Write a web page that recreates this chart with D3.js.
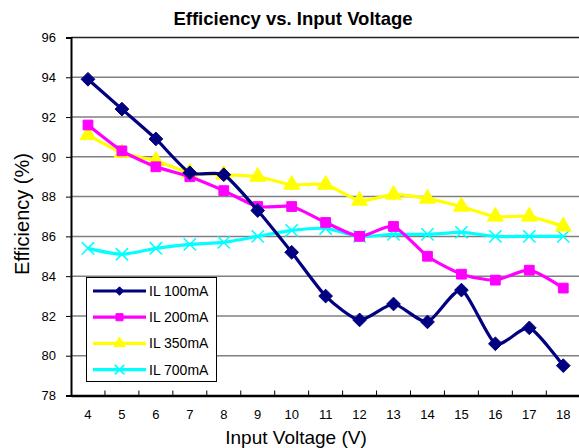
<!DOCTYPE html>
<html>
<head>
<meta charset="utf-8">
<script src="https://cdn.jsdelivr.net/npm/d3@7"></script>
<style>
  body { margin: 0; background: #fff; }
  text { font-family: "Liberation Sans", Arial, sans-serif; }
</style>
</head>
<body>
<div id="chart"></div>
<script>
// voltages on the x axis
const voltages = [4, 5, 6, 7, 8, 9, 10, 11, 12, 13, 14, 15, 16, 17, 18];
const yTicks = [78, 80, 82, 84, 86, 88, 90, 92, 94, 96];

// efficiency (%)
const il100 = [93.9, 92.4, 90.9, 89.2, 89.1, 87.3, 85.2, 83.0, 81.8, 82.6, 81.7, 83.3, 80.6, 81.4, 79.5];
const il200 = [91.6, 90.3, 89.5, 89.0, 88.3, 87.5, 87.5, 86.7, 86.0, 86.5, 85.0, 84.1, 83.8, 84.3, 83.4];
const il350 = [91.1, 90.2, 89.8, 89.2, 89.1, 89.0, 88.6, 88.6, 87.8, 88.1, 87.9, 87.5, 87.0, 87.0, 86.5];
const il700 = [85.4, 85.1, 85.4, 85.6, 85.7, 86.0, 86.3, 86.4, 86.0, 86.1, 86.1, 86.2, 86.0, 86.0, 86.0];

const seriesNames = ["IL 100mA", "IL 200mA", "IL 350mA", "IL 700mA"];
const seriesColors = ["#000080", "#ff00ff", "#ffff00", "#00ffff"];
const seriesSymbols = ["diamond", "square", "triangle", "cross"];

const series = [il100, il200, il350, il700].map((vals, i) => ({
	name: seriesNames[i], color: seriesColors[i], symbol: seriesSymbols[i], values: vals
}));

const width = 579, height = 448;
const margin = {top: 37.5, right: 0, bottom: 52.5, left: 71};
const band = 33.95;
const plotRight = margin.left + voltages.length * band;

const svg = d3.select("#chart").append("svg")
	.attr("width", width)
	.attr("height", height);

const x = d3.scaleBand()
	.domain(voltages)
	.range([margin.left, plotRight])
	.padding(0);

const y = d3.scaleLinear()
	.domain([78, 96])
	.range([height - margin.bottom, margin.top]);

// gridlines
svg.append("g")
	.selectAll("line")
	.data(yTicks.filter(d => d > 78))
	.enter().append("line")
	.attr("x1", margin.left).attr("x2", plotRight)
	.attr("y1", d => y(d)).attr("y2", d => y(d))
	.style("stroke", d => d === 96 ? "#222" : "#808080")
	.style("stroke-width", 1.5);

// y axis
const yAxis = svg.append("g")
	.attr("transform", `translate(${margin.left},0)`)
	.call(d3.axisLeft(y).tickValues(yTicks).tickSize(5).tickPadding(10));
yAxis.select(".domain").style("stroke", "#000").style("stroke-width", 2);
yAxis.selectAll(".tick line").style("stroke", "#000");
yAxis.selectAll("text").style("font-size", "13px").style("fill", "#000");

// x axis with ticks between categories, pointing inward
const xAxis = svg.append("g")
	.attr("transform", `translate(0,${y(78)})`)
	.call(d3.axisBottom(x).tickSize(0).tickPadding(14));
xAxis.select(".domain").style("stroke", "#000").style("stroke-width", 2.5);
xAxis.selectAll("text").style("font-size", "13px").style("fill", "#000");
xAxis.selectAll(".sep")
	.data(voltages.slice(1))
	.enter().append("line")
	.attr("class", "sep")
	.attr("x1", d => x(d)).attr("x2", d => x(d))
	.attr("y1", 0).attr("y2", -5)
	.style("stroke", "#000");

// titles
svg.append("text")
	.attr("x", 293).attr("y", 25)
	.attr("text-anchor", "middle")
	.style("font-size", "18.5px").style("font-weight", "bold")
	.text("Efficiency vs. Input Voltage");

svg.append("text")
	.attr("x", 296).attr("y", 444)
	.attr("text-anchor", "middle")
	.style("font-size", "19px")
	.text("Input Voltage (V)");

svg.append("text")
	.attr("transform", "translate(29,214) rotate(-90)")
	.attr("text-anchor", "middle")
	.style("font-size", "20px")
	.text("Efficiency (%)");

const cx = d => x(d) + x.bandwidth() / 2;

const line = d3.line()
	.x((d, i) => cx(voltages[i]))
	.y(d => y(d))
	.curve(d3.curveCardinal.tension(0.35));

const markerSize = {diamond: 120, square: 95, triangle: 110, cross: 100};
const legendSize = {diamond: 45, square: 50, triangle: 55, cross: 60};
const symbolType = {
	diamond: d3.symbolDiamond2, square: d3.symbolSquare,
	triangle: d3.symbolTriangle, cross: d3.symbolX
};

function drawMarker(g, s, px, py, sizes) {
	const m = g.append("path")
		.attr("d", d3.symbol().type(symbolType[s.symbol]).size(sizes[s.symbol])())
		.attr("transform", `translate(${px},${py})`);
	if (s.symbol === "cross") {
		m.style("fill", "none").style("stroke", s.color).style("stroke-width", 1.6);
	} else {
		m.style("fill", s.color).style("stroke", s.color).style("stroke-width", 1);
	}
}

// draw last series first so IL 100mA sits on top
series.slice().reverse().forEach(s => {
	const g = svg.append("g");
	g.append("path")
		.datum(s.values)
		.attr("d", line)
		.style("fill", "none")
		.style("stroke", s.color)
		.style("stroke-width", 3.2);
	s.values.forEach((v, i) => drawMarker(g, s, cx(voltages[i]), y(v), markerSize));
});

// legend
const legend = svg.append("g");
legend.append("rect")
	.attr("x", 86.5).attr("y", 277.5)
	.attr("width", 130).attr("height", 104)
	.style("fill", "#fff").style("stroke", "#000").style("stroke-width", 1);

series.forEach((s, i) => {
	const ly = 291 + i * 26.2;
	legend.append("line")
		.attr("x1", 93).attr("x2", 146)
		.attr("y1", ly).attr("y2", ly)
		.style("stroke", s.color).style("stroke-width", 3.2);
	drawMarker(legend, s, 119.5, ly, legendSize);
	legend.append("text")
		.attr("x", 149).attr("y", ly + 5)
		.style("font-size", "14px")
		.text(s.name);
});
</script>
</body>
</html>
